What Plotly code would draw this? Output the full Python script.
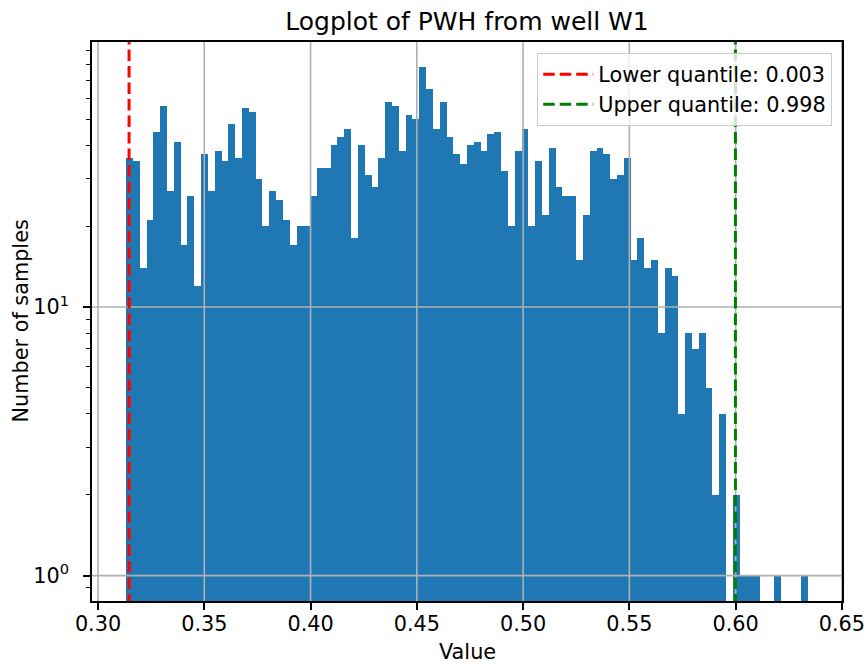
import numpy as np
import plotly.graph_objects as go

# ---------------- data ----------------
counts = [36, 35, 14, 21, 45, 56, 27, 41, 17, 26,
          12, 37, 27, 38, 35, 48, 36, 55, 53, 30,
          20, 27, 25, 21, 17, 20, 20, 26, 33, 33,
          40, 43, 46, 18, 40, 31, 28, 36, 58, 56,
          38, 52, 50, 78, 65, 46, 58, 43, 37, 34,
          40, 41, 38, 44, 45, 32, 20, 38, 46, 20,
          35, 22, 39, 28, 26, 26, 15, 22, 38, 39,
          37, 30, 31, 36, 15, 18, 14, 15, 8, 14,
          13, 4, 8, 7, 8, 5, 2, 4, 0, 2,
          1, 1, 1, 0, 0, 1, 0, 0, 0, 1]
value_min = 0.3132
value_max = 0.6340
lower_quantile_value = 0.3146
upper_quantile_value = 0.5999
legend_labels = ["Lower quantile: 0.003", "Upper quantile: 0.998"]
x_ticks = [0.30, 0.35, 0.40, 0.45, 0.50, 0.55, 0.60, 0.65]
x_tick_labels = ["0.30", "0.35", "0.40", "0.45", "0.50", "0.55", "0.60", "0.65"]
y_ticks = [1, 10]
y_tick_labels = ["10<sup>0</sup>", "10<sup>1</sup>"]
y_minor_ticks = [0.2, 0.3, 0.4, 0.5, 0.6, 0.7, 0.8, 0.9,
                 2, 3, 4, 5, 6, 7, 8, 9,
                 20, 30, 40, 50, 60, 70, 80, 90]
title_text = "Logplot of PWH from well W1"
x_title = "Value"
y_title = "Number of samples"

# ---------------- derived ----------------
n_bins = len(counts)
edges = np.linspace(value_min, value_max, n_bins + 1)
centers = (edges[:-1] + edges[1:]) / 2
bin_w = edges[1] - edges[0]
yvals = [c if c > 0 else None for c in counts]

span = value_max - value_min
x_range = [value_min - 0.05 * span, value_max + 0.05 * span]
lmax = np.log10(max(counts))
y_range = [-0.05 * lmax, 1.05 * lmax]
y_lo, y_hi = 10 ** (y_range[0] - 1), 10 ** (y_range[1] + 1)

FONT = "DejaVu Sans"
fs = 20.8
grid_col = "#b0b0b0"
W, H = 867, 666
ML, MT = 92, 42
PLOT_W, PLOT_H = 750, 559
MR = W - ML - PLOT_W
MB = H - MT - PLOT_H

fig = go.Figure()
fig.add_trace(go.Bar(x=centers, y=yvals, width=bin_w,
                     marker=dict(color="#1f77b4", line=dict(width=0)),
                     showlegend=False, hoverinfo="x+y"))

# grid lines above bars (matplotlib axisbelow='line')
for t in x_ticks:
    fig.add_trace(go.Scatter(x=[t, t], y=[y_lo, y_hi], mode="lines",
                             line=dict(color=grid_col, width=1.6),
                             showlegend=False, hoverinfo="skip"))
for t in y_ticks:
    fig.add_trace(go.Scatter(x=[x_range[0] - 1, x_range[1] + 1], y=[t, t], mode="lines",
                             line=dict(color=grid_col, width=1.6),
                             showlegend=False, hoverinfo="skip"))

fig.add_trace(go.Scatter(x=[lower_quantile_value] * 2, y=[y_lo, y_hi], mode="lines",
                         line=dict(color="red", width=3, dash="11.5px,5px"),
                         name=legend_labels[0]))
fig.add_trace(go.Scatter(x=[upper_quantile_value] * 2, y=[y_lo, y_hi], mode="lines",
                         line=dict(color="green", width=3, dash="11.5px,5px"),
                         name=legend_labels[1]))

axis_common = dict(showline=True, linecolor="black", linewidth=1.6, mirror=True,
                   ticks="outside", ticklen=7, tickwidth=1.6, tickcolor="black",
                   tickfont=dict(family=FONT, size=fs, color="black"),
                   showgrid=False, zeroline=False, automargin=False)

fig.update_layout(
    width=W, height=H,
    margin=dict(l=ML, r=MR, t=MT, b=MB, autoexpand=False),
    plot_bgcolor="white", paper_bgcolor="white",
    font=dict(family=FONT, size=fs, color="black"),
    bargap=0,
    title=dict(text=title_text, x=(ML + PLOT_W / 2) / W, xanchor="center",
               y=1 - 21 / H, yanchor="middle", yref="container",
               font=dict(family=FONT, size=25, color="black")),
    xaxis=dict(range=x_range, tickmode="array", tickvals=x_ticks, ticktext=x_tick_labels,
               ticklabelstandoff=-4, ticklabeloverflow="allow", **axis_common),
    yaxis=dict(type="log", range=y_range, tickmode="array", tickvals=y_ticks,
               ticktext=y_tick_labels, ticklabelstandoff=10,
               minor=dict(tickmode="array", tickvals=y_minor_ticks, ticks="outside",
                          ticklen=4, tickwidth=1.2, tickcolor="black", showgrid=False),
               **axis_common),
    legend=dict(x=1 - 10 / PLOT_W, xanchor="right", y=1 - 11 / PLOT_H, yanchor="top",
                bgcolor="rgba(255,255,255,0.8)", bordercolor="#cccccc", borderwidth=1.2,
                itemwidth=50, tracegroupgap=0,
                font=dict(family=FONT, size=fs, color="black")),
    annotations=[
        dict(text=x_title, xref="paper", yref="paper", x=0.5,
             y=-(652 - 600.7) / PLOT_H, xanchor="center", yanchor="middle",
             showarrow=False, font=dict(family=FONT, size=fs, color="black")),
        dict(text=y_title, xref="paper", yref="paper", x=-(92 - 20) / PLOT_W,
             y=0.5, xanchor="center", yanchor="middle", textangle=-90,
             showarrow=False, font=dict(family=FONT, size=fs, color="black")),
    ],
)

fig.write_html("out.html",
               config={"displayModeBar": False},
               post_script="document.body.style.margin='0';document.body.style.overflow='hidden';")
